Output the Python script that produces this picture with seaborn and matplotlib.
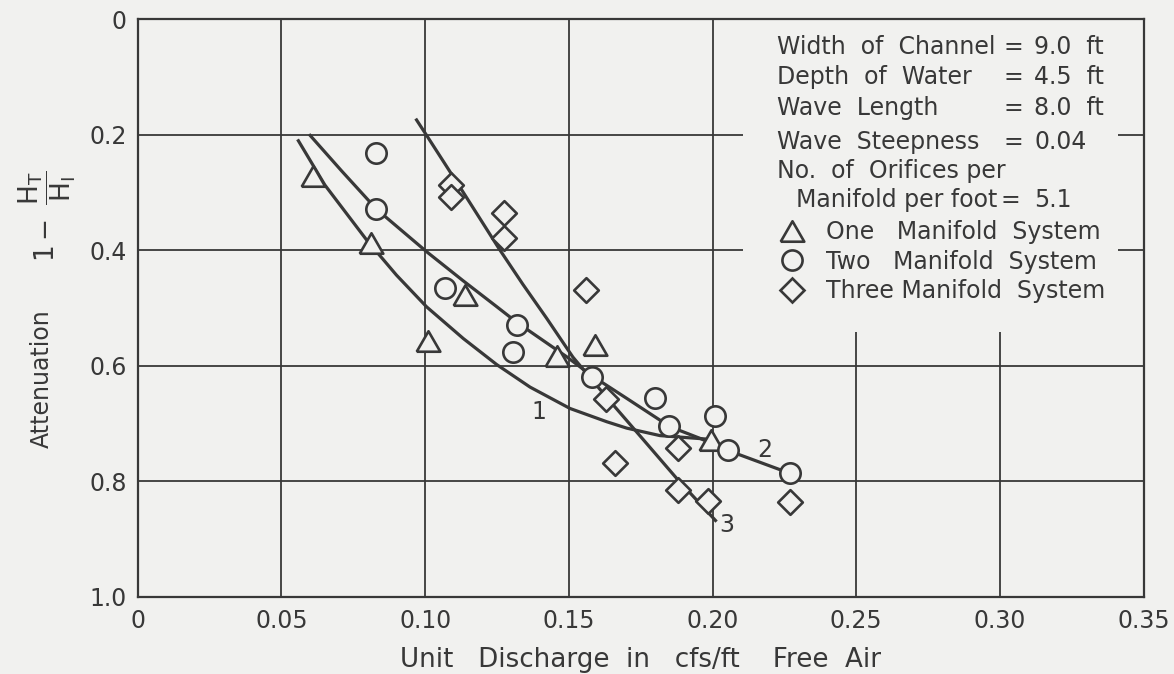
import matplotlib
matplotlib.use("Agg")
import matplotlib.pyplot as plt
from matplotlib.lines import Line2D
from matplotlib.patches import Rectangle
import seaborn as sns

# Measured attenuation (1 - HT/HI) against unit discharge of free air (cfs/ft)
one_q = [0.061, 0.081, 0.101, 0.114, 0.146, 0.159, 0.1995]
one_att = [0.272, 0.388, 0.558, 0.477, 0.583, 0.564, 0.728]

two_q = [0.083, 0.083, 0.107, 0.132, 0.1307, 0.158, 0.180, 0.185, 0.2008, 0.2055, 0.227]
two_att = [0.231, 0.329, 0.466, 0.529, 0.576, 0.619, 0.656, 0.705, 0.687, 0.746, 0.786]

three_q = [0.109, 0.109, 0.1276, 0.1276, 0.156, 0.163, 0.166, 0.188, 0.188, 0.1985, 0.227]
three_att = [0.287, 0.308, 0.335, 0.378, 0.469, 0.657, 0.769, 0.743, 0.815, 0.834, 0.836]

# Faired curves through each set of measurements
curve1_q = [0.0556, 0.0651, 0.0796, 0.0900, 0.1005, 0.1133, 0.1249, 0.1365, 0.1504, 0.1632, 0.1701, 0.1817, 0.1979]
curve1_att = [0.208, 0.287, 0.382, 0.443, 0.498, 0.553, 0.598, 0.637, 0.674, 0.697, 0.708, 0.721, 0.727]

curve2_q = [0.0596, 0.0710, 0.0831, 0.1005, 0.1130, 0.1249, 0.1318, 0.1492, 0.1579, 0.1701, 0.1852, 0.1956, 0.2049, 0.2269]
curve2_att = [0.199, 0.263, 0.329, 0.4025, 0.452, 0.4977, 0.5245, 0.5843, 0.617, 0.6564, 0.7056, 0.7257, 0.7459, 0.7863]

curve3_q = [0.0967, 0.1005, 0.1133, 0.1258, 0.1340, 0.1423, 0.1514, 0.1632, 0.1759, 0.1875, 0.2014]
curve3_att = [0.172, 0.201, 0.300, 0.398, 0.459, 0.518, 0.585, 0.655, 0.728, 0.795, 0.870]

curve_labels = ["1", "2", "3"]
curve_label_q = [0.1397, 0.2182, 0.2049]
curve_label_att = [0.680, 0.746, 0.876]

x_ticks = [0, 0.05, 0.10, 0.15, 0.20, 0.25, 0.30, 0.35]
x_tick_labels = ["0", "0.05", "0.10", "0.15", "0.20", "0.25", "0.30", "0.35"]
y_ticks = [0, 0.2, 0.4, 0.6, 0.8, 1.0]
y_tick_labels = ["0", "0.2", "0.4", "0.6", "0.8", "1.0"]

series_names = ["One   Manifold  System", "Two   Manifold  System", "Three Manifold  System"]

test_conditions = [
    ("Width  of  Channel", "=", "9.0  ft"),
    ("Depth  of  Water", "=", "4.5  ft"),
    ("Wave  Length", "=", "8.0  ft"),
    ("Wave  Steepness", "=", "0.04"),
    ("No.  of  Orifices per", "", ""),
    ("Manifold per foot", "=", "5.1"),
]

INK = "#383838"
PAPER = "#f1f1ef"
W, H = 1174, 674

sns.set_theme(style="white")
plt.rcParams["font.family"] = ["DejaVu Sans"]
plt.rcParams["mathtext.default"] = "regular"

fig = plt.figure(figsize=(W / 100, H / 100), dpi=100, facecolor=PAPER)
ax = fig.add_axes([137.8 / W, 1 - 596.7 / H, 1005.8 / W, 577.4 / H])
ax.set_facecolor(PAPER)
ax.set_axisbelow(True)


def fig_xy(px, py):
    return px / W, 1 - py / H


# Faired curves
for q, att in [(curve1_q, curve1_att), (curve2_q, curve2_att), (curve3_q, curve3_att)]:
    sns.lineplot(x=q, y=att, sort=False, estimator=None, color=INK, lw=2.3,
                 ax=ax, zorder=2, solid_capstyle="butt")

# Open symbols for the measurements (equilateral triangle outline, closed)
tri = [(-1, -0.866), (1, -0.866), (0, 0.866), (-1, -0.866)]
marker_kw = dict(color=PAPER, edgecolor=INK, linewidth=1.9, zorder=3, ax=ax)
sns.scatterplot(x=one_q, y=one_att, marker=tri, s=290, **marker_kw)
sns.scatterplot(x=two_q, y=two_att, marker="o", s=215, **marker_kw)
sns.scatterplot(x=three_q, y=three_att, marker="D", s=158, **marker_kw)

for lab, q, att in zip(curve_labels, curve_label_q, curve_label_att):
    ax.text(q, att, lab, fontsize=17, color=INK, ha="center", va="center", zorder=4)

ax.set_xlim(0, 0.35)
ax.set_ylim(1.0, 0)
ax.set_xticks(x_ticks)
ax.set_xticklabels(x_tick_labels)
ax.set_yticks(y_ticks)
ax.set_yticklabels(y_tick_labels)
ax.tick_params(axis="both", length=0, labelsize=17, labelcolor=INK)
ax.tick_params(axis="x", pad=9)
ax.tick_params(axis="y", pad=8)
ax.grid(True, color=INK, lw=1.3)
for sp in ax.spines.values():
    sp.set_color(INK)
    sp.set_linewidth(1.6)
    sp.set_visible(True)

# Blank panel behind the test conditions
ax.add_patch(Rectangle((0.2105, 0.0), 0.341 - 0.2105, 0.542, facecolor=PAPER,
                       edgecolor="none", zorder=1))

ax.set_xlabel("Unit   Discharge  in   cfs/ft    Free  Air", fontsize=18.8, color=INK,
              va="center", ha="center")
ax.xaxis.set_label_coords(0.5, (596.7 - 660) / 577.4)
ax.set_ylabel("Attenuation", fontsize=17, color=INK, va="center", ha="center")
ax.yaxis.set_label_coords((42 - 137.8) / 1005.8, (596.7 - 379) / 577.4)
fig.text(*fig_xy(47, 216), r"$1 -\ \dfrac{H_T}{H_I}$", rotation=90, fontsize=19,
         color=INK, ha="center", va="center")

# Test conditions block
row_y = [46.7, 77.3, 108.3, 141.7, 170.7, 200.0]
row_x = [777, 777, 777, 777, 777, 796]
eq_x = [1013, 1013, 1013, 1013, 1013, 1010]
for (name, eq, val), y, x0, xe in zip(test_conditions, row_y, row_x, eq_x):
    fig.text(*fig_xy(x0, y), name, fontsize=17, color=INK, ha="left", va="center")
    if eq:
        fig.text(*fig_xy(xe, y), eq, fontsize=17, color=INK, ha="center", va="center")
        fig.text(*fig_xy(1034, y), val, fontsize=17, color=INK, ha="left", va="center")

handles = [
    Line2D([], [], ls="none", marker=tri, ms=17, mfc=PAPER, mec=INK, mew=1.9),
    Line2D([], [], ls="none", marker="o", ms=14.5, mfc=PAPER, mec=INK, mew=1.9),
    Line2D([], [], ls="none", marker="D", ms=12.4, mfc=PAPER, mec=INK, mew=1.9),
]
leg = ax.legend(handles, series_names, loc="upper left",
                bbox_to_anchor=fig_xy(780.2, 220), bbox_transform=fig.transFigure,
                frameon=False, borderpad=0, borderaxespad=0, handlelength=1.0,
                handletextpad=0.94, labelspacing=0.24, fontsize=17)
for t in leg.get_texts():
    t.set_color(INK)

fig.savefig("out.png", dpi=100, facecolor=PAPER)
